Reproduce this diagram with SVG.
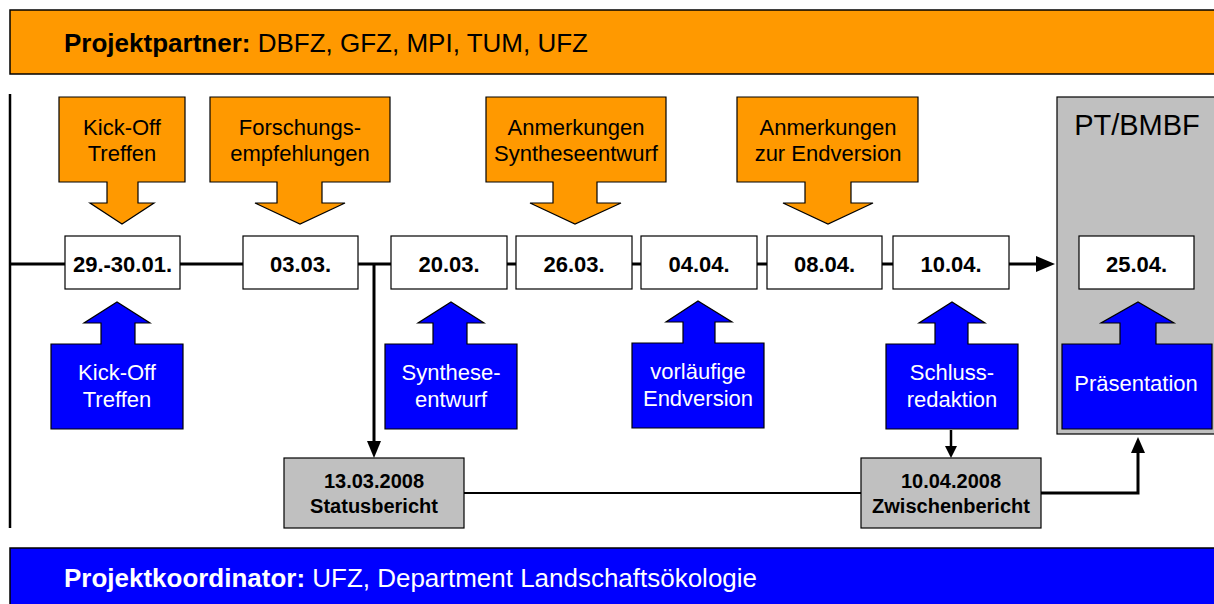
<svg xmlns="http://www.w3.org/2000/svg" width="1214" height="604" viewBox="0 0 1214 604">
<style>
text{font-family:"Liberation Sans",Arial,sans-serif}
.ban{font-size:25px}
.date{fill:#fff;stroke:#000;stroke-width:1.2}
.dt{font-size:22px;font-weight:bold;text-anchor:middle}
.or{fill:#FF9900;stroke:#000;stroke-width:1.2}
.bl{fill:#0000FF;stroke:#000;stroke-width:1.2}
.gr{fill:#C0C0C0;stroke:#000;stroke-width:1.2}
.ot{font-size:22px;text-anchor:middle;fill:#000}
.bt{font-size:22px;text-anchor:middle;fill:#fff}
.gt{font-size:20px;font-weight:bold;text-anchor:middle}
.ln{stroke:#000;stroke-width:3;fill:none}
</style>

<g id="banner-top">
<rect x="10" y="10" width="1214" height="64" fill="#FF9900" stroke="#000" stroke-width="1.5"/>
<text x="64" y="52" class="ban" textLength="524" lengthAdjust="spacingAndGlyphs"><tspan font-weight="bold">Projektpartner:</tspan> DBFZ, GFZ, MPI, TUM, UFZ</text>
</g>
<g id="banner-bottom">
<rect x="10" y="548" width="1214" height="64" fill="#0000FF" stroke="#000" stroke-width="1.5"/>
<text x="64" y="587" class="ban" fill="#fff" textLength="693" lengthAdjust="spacingAndGlyphs"><tspan font-weight="bold">Projektkoordinator:</tspan> UFZ, Department Landschaftsökologie</text>
</g>

<g id="ptbmbf">
<rect x="1057" y="97" width="170" height="337" class="gr"/>
<text x="1137" y="135" font-size="29" text-anchor="middle">PT/BMBF</text>
</g>

<g id="connectors">
<line x1="10" y1="94" x2="10" y2="528" stroke="#000" stroke-width="2.5"/>
<line x1="10" y1="264" x2="65" y2="264" class="ln"/>
<line x1="180" y1="264" x2="243" y2="264" class="ln"/>
<line x1="358" y1="264" x2="391" y2="264" class="ln"/>
<line x1="507" y1="264" x2="516" y2="264" class="ln"/>
<line x1="632" y1="264" x2="641" y2="264" class="ln"/>
<line x1="757" y1="264" x2="767" y2="264" class="ln"/>
<line x1="882" y1="264" x2="893" y2="264" class="ln"/>
<line x1="1009" y1="264" x2="1036" y2="264" class="ln"/>
<path d="M1036,256 L1055,264 L1036,272 Z" fill="#000"/>
<line x1="374" y1="264" x2="374" y2="442" class="ln"/>
<path d="M367,441 L374,458 L381,441 Z" fill="#000"/>
<line x1="951" y1="430" x2="951" y2="447" stroke="#000" stroke-width="2.5"/>
<path d="M945,446 L951,458 L957,446 Z" fill="#000"/>
<line x1="464" y1="493" x2="861" y2="493" stroke="#000" stroke-width="1.8"/>
<polyline points="1041,493 1138,493 1138,452" class="ln"/>
<path d="M1131,453 L1138,437 L1145,453 Z" fill="#000"/>
</g>

<g id="d1"><rect x="65" y="236" width="115" height="53" class="date"/><text x="122.5" y="272" class="dt">29.-30.01.</text></g>
<g id="d2"><rect x="243" y="236" width="115" height="53" class="date"/><text x="300.5" y="272" class="dt">03.03.</text></g>
<g id="d3"><rect x="391" y="236" width="116" height="53" class="date"/><text x="449" y="272" class="dt">20.03.</text></g>
<g id="d4"><rect x="516" y="236" width="116" height="53" class="date"/><text x="574" y="272" class="dt">26.03.</text></g>
<g id="d5"><rect x="641" y="236" width="116" height="53" class="date"/><text x="699" y="272" class="dt">04.04.</text></g>
<g id="d6"><rect x="767" y="236" width="115" height="53" class="date"/><text x="824.5" y="272" class="dt">08.04.</text></g>
<g id="d7"><rect x="893" y="236" width="116" height="53" class="date"/><text x="951" y="272" class="dt">10.04.</text></g>
<g id="d8"><rect x="1079" y="236" width="115" height="53" class="date"/><text x="1136.5" y="272" class="dt">25.04.</text></g>

<g id="o1"><path d="M59,97 H185 V182 H138 V203 H154 L122,224 L90,203 H107 V182 H59 Z" class="or"/><text x="122" y="135" class="ot">Kick-Off</text><text x="122" y="161" class="ot">Treffen</text></g>
<g id="o2"><path d="M210,97 H390 V182 H322 V203 H345 L300,224 L255,203 H277 V182 H210 Z" class="or"/><text x="300" y="135" class="ot">Forschungs-</text><text x="300" y="161" class="ot">empfehlungen</text></g>
<g id="o3"><path d="M486,97 H666 V182 H597 V203 H621 L575,224 L530,203 H553 V182 H486 Z" class="or"/><text x="576" y="135" class="ot">Anmerkungen</text><text x="576" y="161" class="ot">Syntheseentwurf</text></g>
<g id="o4"><path d="M737,97 H918 V182 H851 V203 H873 L828,224 L783,203 H805 V182 H737 Z" class="or"/><text x="828" y="135" class="ot">Anmerkungen</text><text x="828" y="161" class="ot">zur Endversion</text></g>

<g id="b1"><path d="M51,344 V429 H183 V344 H135 V323 H150 L117,302 L84,323 H101 V344 Z" class="bl"/><text x="117" y="380" class="bt">Kick-Off</text><text x="117" y="407" class="bt">Treffen</text></g>
<g id="b2"><path d="M385,344 V429 H517 V344 H467 V323 H484 L451,302 L418,323 H433 V344 Z" class="bl"/><text x="451" y="380" class="bt">Synthese-</text><text x="451" y="407" class="bt">entwurf</text></g>
<g id="b3"><path d="M632,343 V428 H764 V343 H715 V322 H732 L698,301 L666,322 H683 V343 Z" class="bl"/><text x="698" y="379" class="bt">vorläufige</text><text x="698" y="406" class="bt">Endversion</text></g>
<g id="b4"><path d="M886,344 V429 H1018 V344 H968 V323 H985 L952,302 L919,323 H935 V344 Z" class="bl"/><text x="952" y="380" class="bt">Schluss-</text><text x="952" y="407" class="bt">redaktion</text></g>
<g id="b5"><path d="M1062,344 V429 H1212 V344 H1156 V323 H1174 L1138,302 L1101,323 H1120 V344 Z" class="bl"/><text x="1136" y="391" class="bt">Präsentation</text></g>

<g id="g1"><rect x="284" y="458" width="180" height="70" class="gr"/><text x="374" y="488" class="gt">13.03.2008</text><text x="374" y="513" class="gt">Statusbericht</text></g>
<g id="g2"><rect x="861" y="458" width="180" height="70" class="gr"/><text x="951" y="488" class="gt">10.04.2008</text><text x="951" y="513" class="gt">Zwischenbericht</text></g>
</svg>
